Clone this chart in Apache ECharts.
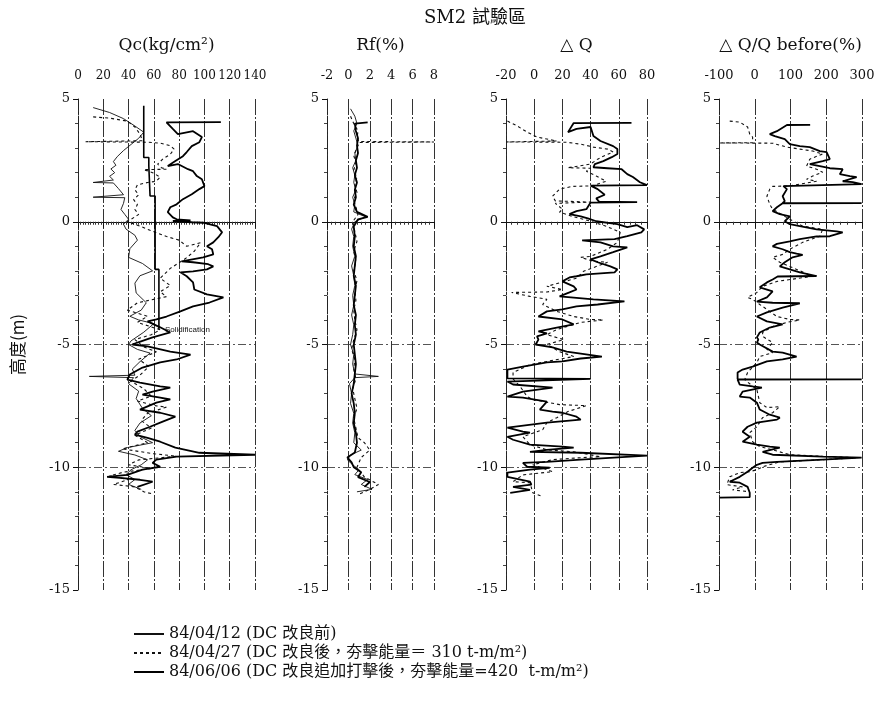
<!DOCTYPE html>
<html>
<head>
<meta charset="utf-8">
<script src="https://cdn.jsdelivr.net/npm/echarts@6/dist/echarts.min.js"></script>
<style>
html,body{margin:0;padding:0;background:#fff;}
#chart{width:887px;height:703px;}
</style>
</head>
<body>
<div id="chart"></div>
<script>
// Legend names of the three CPT soundings
const nameBefore = '84/04/12 (DC 改良前)';
const nameAfter1 = '84/04/27 (DC 改良後，夯擊能量＝ 310 t-m/m²)';
const nameAfter2 = '84/06/06 (DC 改良追加打擊後，夯擊能量=420  t-m/m²)';

// Panel headings and axis ticks
const panelTitles = ['Qc(kg/cm²)', 'Rf(%)', '△ Q', '△ Q/Q before(%)'];
const xRanges = [[0, 140, 20], [-2, 8, 2], [-20, 80, 20], [-100, 300, 100]];
const elevRange = [-15, 5, 5];

// Qc (kg/cm2) vs elevation (m): [value, elevation]
const qcBefore = [[12,4.65],[25,4.45],[36,4.2],[45,3.9],[52,3.65],[48,3.4],[42,3.15],[36,2.9],[31,2.65],[28,2.45],[30,2.3],[26,2.15],[29,2.0],[25,1.85],[28,1.7],[27,1.62],[12,1.6],[28,1.58],[32,1.35],[36,1.1],[37,1.02],[12,1.0],[37,0.98],[36,0.75],[34,0.5],[37,0.3],[40,0.1],[36,-0.1],[38,-0.3],[45,-0.55],[47,-0.75],[41,-1.1],[40,-1.45],[51,-1.7],[59,-2.0],[49,-2.2],[45,-2.5],[46,-2.9],[54,-3.3],[50,-3.6],[41,-3.85],[48,-4.0],[60,-4.15],[52,-4.5],[42,-4.85],[40,-5.0],[47,-5.2],[57,-5.35],[49,-5.7],[43,-6.0],[45,-6.25],[9,-6.3],[44,-6.35],[40,-6.6],[48,-6.9],[46,-7.2],[51,-7.6],[58,-7.9],[49,-8.2],[45,-8.5],[49,-8.75],[59,-9.0],[39,-9.2],[32,-9.35],[45,-9.5],[55,-9.7],[50,-9.9],[42,-10.1],[38,-10.3],[45,-10.5],[40,-10.7],[50,-10.9]];
const qcAfter1 = [[12,4.27],[25,4.22],[39,4.1],[45,3.86],[49,3.57],[51,3.3],[6,3.26],[55,3.24],[65,3.2],[73,3.1],[76,2.96],[73,2.75],[67,2.55],[63,2.35],[66,2.2],[70,2.14],[52,2.12],[59,2.0],[65,1.82],[62,1.65],[55,1.6],[47,1.5],[45,1.3],[48,1.1],[44,0.9],[47,0.7],[45,0.5],[48,0.3],[42,0.1],[39,0.0],[50,-0.2],[57,-0.35],[70,-0.6],[80,-0.75],[86,-1.0],[97,-0.85],[92,-1.2],[85,-1.5],[73,-1.9],[65,-2.3],[73,-2.6],[65,-2.85],[70,-3.05],[47,-3.3],[39,-3.6],[55,-3.85],[47,-4.1],[65,-4.4],[58,-4.6],[45,-4.8],[52,-5.1],[62,-5.3],[48,-5.6],[56,-5.9],[50,-6.2],[42,-6.5],[52,-6.8],[58,-7.1],[47,-7.3],[62,-7.5],[70,-7.55],[55,-7.8],[50,-8.1],[58,-8.4],[45,-8.7],[55,-9.0],[35,-9.25],[60,-9.45],[78,-9.55],[48,-9.7],[40,-9.9],[58,-10.05],[36,-10.2],[25,-10.35],[40,-10.5],[28,-10.7],[45,-10.8],[52,-11.0],[60,-11.1]];
const qcAfter2 = [[113,4.06],[70,4.05],[75,3.78],[79,3.57],[91,3.69],[98,3.45],[96,3.24],[90,3.08],[86,2.84],[83,2.67],[77,2.47],[71,2.27],[79,2.35],[87,2.14],[91,2.06],[94,1.86],[98,1.73],[100,1.45],[96,1.33],[90,1.12],[83,0.92],[78,0.71],[73,0.59],[71,0.39],[75,0.18],[78,0.10],[89,0.06],[75,0.03],[90,-0.02],[99,-0.04],[110,-0.18],[114,-0.43],[111,-0.63],[107,-0.84],[102,-1.0],[106,-1.12],[107,-1.33],[99,-1.45],[82,-1.61],[91,-1.65],[103,-1.73],[107,-1.82],[102,-1.94],[91,-2.02],[81,-2.06],[86,-2.22],[91,-2.47],[92,-2.76],[102,-2.96],[115,-3.08],[104,-3.29],[91,-3.45],[81,-3.65],[70,-3.86],[62,-3.98],[55,-4.06],[65,-4.3],[73,-4.51],[59,-4.71],[47,-4.92],[43,-5.0],[55,-5.08],[73,-5.29],[89,-5.41],[78,-5.61],[65,-5.73],[51,-5.94],[41,-6.22],[39,-6.43],[49,-6.55],[65,-6.71],[73,-6.76],[59,-6.92],[51,-7.04],[65,-7.16],[73,-7.24],[62,-7.37],[49,-7.65],[65,-7.78],[77,-7.94],[67,-8.14],[57,-8.35],[47,-8.55],[45,-8.67],[55,-8.8],[65,-8.96],[77,-9.2],[96,-9.41],[140,-9.49],[78,-9.57],[62,-9.69],[59,-9.82],[65,-9.98],[51,-10.1],[39,-10.31],[23,-10.39],[33,-10.43],[49,-10.51],[59,-10.59],[47,-10.8]];
// Solidification depth line (kg/cm2 threshold by layer)
const qcSolid = [[52,4.73],[52,2.62],[56,2.62],[56,2.28],[57,2.28],[57,1.05],[61,1.05],[61,-1.94],[64,-1.94],[64,-4.39]];

// Friction ratio Rf (%)
const rfBefore = [[0.2,4.6],[0.6,4.3],[0.8,4.0],[0.5,3.7],[0.7,3.4],[0.9,3.1],[0.6,2.8],[0.7,2.5],[0.4,2.2],[0.6,1.9],[0.5,1.6],[0.7,1.3],[0.4,1.0],[0.6,0.7],[0.5,0.4],[1.6,0.2],[0.6,0.0],[0.3,-0.3],[0.5,-0.6],[0.4,-1.0],[0.6,-1.4],[0.3,-1.8],[0.5,-2.2],[0.6,-2.6],[0.4,-3.0],[0.5,-3.4],[0.3,-3.8],[0.5,-4.2],[0.4,-4.6],[0.2,-5.0],[0.5,-5.4],[0.4,-5.8],[0.6,-6.2],[2.8,-6.3],[0.6,-6.35],[0.1,-6.6],[0.3,-7.0],[0.2,-7.4],[0.5,-7.8],[0.4,-8.2],[0.6,-8.6],[0.5,-9.0],[1.2,-9.3],[0.2,-9.5],[-0.1,-9.7],[0.4,-9.9],[1.0,-10.1],[0.6,-10.3],[1.8,-10.5],[1.2,-10.7],[2.2,-10.9],[0.8,-11.0]];
const rfAfter1 = [[0.2,4.3],[0.5,4.0],[0.9,3.7],[0.8,3.4],[1.0,3.27],[8.0,3.25],[1.0,3.23],[0.8,3.0],[0.5,2.7],[0.7,2.4],[0.5,2.1],[0.8,1.8],[0.6,1.5],[0.8,1.2],[0.5,0.9],[0.7,0.6],[0.9,0.3],[0.4,0.0],[0.6,-0.4],[0.8,-0.8],[0.5,-1.2],[0.7,-1.6],[0.5,-2.0],[0.8,-2.4],[0.6,-2.8],[0.7,-3.2],[0.5,-3.6],[0.6,-4.0],[0.8,-4.4],[0.5,-4.8],[0.3,-5.2],[0.6,-5.6],[0.5,-6.0],[0.7,-6.4],[0.4,-6.8],[0.6,-7.2],[0.8,-7.6],[0.5,-8.0],[0.7,-8.4],[0.9,-8.8],[1.5,-9.0],[2.0,-9.3],[1.2,-9.6],[0.8,-10.0],[1.5,-10.4],[2.8,-10.7],[2.0,-10.9],[1.0,-11.1]];
const rfAfter2 = [[1.8,4.05],[0.6,4.0],[0.7,3.7],[0.9,3.4],[0.8,3.1],[0.9,2.8],[0.7,2.5],[0.8,2.2],[0.6,1.9],[0.8,1.6],[0.6,1.3],[0.7,1.0],[0.5,0.7],[0.8,0.4],[1.8,0.2],[0.9,0.1],[0.5,-0.2],[0.6,-0.6],[0.5,-1.0],[0.7,-1.4],[0.6,-1.8],[0.5,-2.2],[0.7,-2.6],[0.6,-3.0],[0.5,-3.4],[0.7,-3.8],[0.6,-4.2],[0.7,-4.6],[0.5,-5.0],[0.6,-5.4],[0.7,-5.8],[0.6,-6.2],[0.5,-6.6],[0.3,-7.0],[0.5,-7.4],[0.6,-7.8],[0.5,-8.2],[0.7,-8.6],[0.8,-9.0],[0.6,-9.4],[-0.1,-9.6],[0.3,-9.8],[0.5,-10.0],[1.2,-10.2],[0.9,-10.4],[2.0,-10.6],[1.5,-10.8]];

// Increase of cone resistance, Qc after - Qc before (kg/cm2)
const dqAfter1 = [[-19,4.1],[-12,3.9],[-5,3.65],[2,3.45],[9,3.37],[16,3.29],[-20,3.25],[23,3.24],[33,3.16],[42,3.04],[52,2.96],[56,2.84],[49,2.67],[45,2.55],[40,2.35],[24,2.2],[40,2.18],[37,2.06],[44,1.86],[51,1.65],[41,1.46],[27,1.44],[18,1.33],[13,1.04],[15,0.85],[40,0.8],[15,0.75],[20,0.51],[18,0.39],[28,0.2],[40,0.02],[51,-0.18],[61,-0.43],[59,-0.84],[52,-1.12],[40,-1.41],[33,-1.45],[42,-1.61],[52,-1.65],[35,-2.02],[30,-2.3],[9,-2.63],[20,-2.76],[9,-2.86],[-16,-2.88],[-3,-3.04],[9,-3.16],[6,-3.37],[16,-3.65],[28,-3.86],[40,-3.98],[49,-4.0],[33,-4.1],[16,-4.39],[9,-4.6],[21,-4.8],[9,-5.0],[18,-5.29],[28,-5.49],[9,-5.69],[-3,-5.82],[-15,-6.14],[-15,-6.4],[-10,-6.71],[-5,-7.12],[-1,-7.24],[18,-7.45],[37,-7.49],[24,-7.73],[16,-7.98],[9,-8.18],[6,-8.47],[-8,-8.76],[-3,-9.08],[9,-9.29],[28,-9.37],[47,-9.57],[33,-9.61],[13,-9.69],[-1,-9.9],[9,-10.1],[13,-10.18],[-8,-10.31],[-15,-10.59],[-3,-10.63],[-1,-11.04],[6,-11.2]];
const dqAfter2 = [[69,4.03],[28,4.02],[24,3.65],[30,3.78],[40,3.86],[42,3.49],[47,3.29],[56,3.08],[59,2.96],[59,2.76],[55,2.63],[49,2.47],[43,2.35],[42,2.22],[52,2.18],[62,2.14],[66,1.94],[70,1.82],[75,1.61],[80,1.49],[40,1.47],[45,1.33],[50,1.1],[44,0.95],[46,0.82],[73,0.8],[40,0.78],[37,0.51],[30,0.43],[25,0.31],[33,0.22],[38,0.14],[44,0.02],[59,-0.1],[66,-0.22],[73,-0.14],[78,-0.31],[76,-0.43],[66,-0.59],[57,-0.71],[34,-0.76],[47,-0.84],[56,-1.0],[66,-1.04],[56,-1.24],[47,-1.41],[40,-1.53],[45,-1.65],[54,-1.82],[59,-1.94],[57,-2.06],[37,-2.14],[30,-2.22],[25,-2.27],[20,-2.43],[28,-2.63],[30,-2.76],[25,-2.88],[18,-3.04],[42,-3.16],[64,-3.24],[45,-3.37],[30,-3.45],[20,-3.57],[9,-3.65],[3,-3.86],[20,-3.98],[28,-4.18],[16,-4.31],[3,-4.47],[9,-4.55],[2,-4.67],[3,-4.8],[1,-5.0],[13,-5.12],[23,-5.29],[33,-5.37],[48,-5.49],[33,-5.57],[20,-5.69],[9,-5.73],[-8,-5.9],[-19,-6.02],[-19,-6.38],[40,-6.4],[-19,-6.51],[-15,-6.63],[13,-6.76],[-8,-6.92],[-19,-7.12],[-8,-7.16],[9,-7.33],[4,-7.65],[13,-7.73],[20,-7.78],[30,-7.94],[33,-8.06],[9,-8.18],[-19,-8.39],[-8,-8.55],[-3,-8.59],[-19,-8.76],[-15,-8.88],[-3,-9.08],[20,-9.16],[28,-9.2],[9,-9.29],[-3,-9.37],[33,-9.41],[80,-9.53],[33,-9.69],[9,-9.78],[-8,-9.82],[-5,-9.98],[11,-10.02],[-3,-10.1],[-19,-10.22],[-19,-10.39],[-3,-10.59],[-2,-10.71],[-15,-10.8],[-3,-10.92],[-17,-11.04]];

// Relative increase, delta Q / Q before (%)
const rqAfter1 = [[-70,4.1],[-42,4.06],[-20,3.86],[-14,3.57],[-6,3.45],[-6,3.22],[-98,3.21],[50,3.2],[90,3.04],[126,2.96],[162,2.88],[190,2.76],[154,2.55],[145,2.27],[173,2.14],[190,2.02],[162,1.86],[145,1.73],[173,1.65],[98,1.46],[50,1.44],[42,1.33],[34,1.04],[42,0.71],[50,0.51],[98,0.1],[134,-0.18],[190,-0.31],[182,-0.59],[134,-0.84],[98,-1.12],[78,-1.33],[50,-1.45],[70,-1.65],[162,-2.22],[62,-2.43],[22,-2.63],[6,-2.88],[-20,-3.08],[-6,-3.16],[14,-3.37],[34,-3.57],[62,-3.86],[98,-3.98],[126,-4.0],[90,-4.1],[50,-4.27],[22,-4.51],[22,-4.67],[50,-4.92],[34,-5.2],[50,-5.33],[14,-5.49],[6,-5.73],[-20,-6.14],[-28,-6.43],[6,-6.84],[14,-7.37],[34,-7.57],[70,-7.53],[50,-7.78],[22,-7.98],[6,-8.35],[-14,-8.59],[-6,-8.96],[14,-9.16],[50,-9.29],[98,-9.49],[210,-9.57],[285,-9.61],[190,-9.69],[70,-9.78],[22,-9.98],[6,-10.1],[-14,-10.18],[-42,-10.22],[-70,-10.39],[-78,-10.71],[-34,-10.8],[-62,-10.92],[-14,-11.0]];
const rqAfter2 = [[155,3.95],[90,3.94],[92,3.9],[62,3.69],[42,3.57],[56,3.49],[84,3.37],[98,3.16],[126,3.08],[154,3.04],[182,2.88],[201,2.84],[210,2.55],[190,2.47],[154,2.35],[182,2.27],[210,2.18],[246,2.14],[238,1.94],[266,1.86],[285,1.82],[246,1.65],[274,1.61],[299,1.53],[299,1.46],[80,1.45],[90,1.33],[78,1.04],[84,0.84],[78,0.77],[299,0.76],[78,0.75],[62,0.59],[50,0.43],[70,0.31],[98,0.22],[84,0.02],[98,-0.1],[126,-0.18],[173,-0.31],[229,-0.39],[246,-0.43],[210,-0.59],[173,-0.6],[126,-0.71],[98,-0.8],[62,-0.9],[50,-1.0],[78,-1.12],[98,-1.24],[117,-1.3],[134,-1.35],[106,-1.45],[84,-1.65],[70,-1.82],[98,-1.94],[126,-2.06],[173,-2.21],[64,-2.23],[50,-2.35],[34,-2.47],[14,-2.67],[50,-2.84],[34,-3.08],[6,-3.25],[50,-3.3],[126,-3.32],[78,-3.5],[34,-3.69],[6,-3.86],[34,-4.06],[78,-4.18],[42,-4.31],[14,-4.51],[6,-4.71],[10,-4.8],[6,-4.92],[14,-5.0],[50,-5.29],[78,-5.33],[117,-5.49],[78,-5.61],[34,-5.69],[-6,-5.9],[-34,-6.02],[-48,-6.14],[-48,-6.41],[299,-6.42],[-48,-6.43],[-42,-6.63],[-6,-6.71],[20,-6.76],[-34,-6.92],[-42,-7.12],[-14,-7.16],[6,-7.37],[14,-7.65],[42,-7.86],[70,-7.98],[62,-8.06],[6,-8.18],[-20,-8.35],[-34,-8.55],[-14,-8.76],[-34,-8.96],[6,-9.08],[42,-9.16],[70,-9.2],[22,-9.37],[50,-9.49],[190,-9.57],[299,-9.61],[190,-9.69],[62,-9.78],[22,-9.82],[6,-9.9],[-6,-10.02],[-20,-10.18],[-42,-10.39],[-70,-10.59],[-42,-10.63],[-20,-10.8],[-14,-11.04],[-14,-11.22],[-98,-11.24]];

const serif = "'DejaVu Serif', 'Liberation Serif', serif";
const mixed = "'DejaVu Serif', 'Noto Sans CJK TC', serif";
const cjk = "'Noto Sans CJK TC', 'Noto Sans', sans-serif";

const gridBoxes = [
  { left: 78, width: 177 },
  { left: 327, width: 107 },
  { left: 506, width: 141 },
  { left: 719, width: 143 }
];
const minorSplits = [10, 5, 5, 5];

const grid = gridBoxes.map(g => ({ left: g.left, width: g.width, top: 99, height: 491 }));

const xAxis = xRanges.map((r, i) => ({
  type: 'value', gridIndex: i, position: 'top',
  min: r[0], max: r[1], interval: r[2],
  name: panelTitles[i], nameLocation: 'middle', nameGap: 45,
  nameTextStyle: { fontFamily: mixed, fontSize: 17, color: '#111' },
  axisLine: { show: true, lineStyle: { color: '#111', width: 1 } },
  axisTick: { show: true, inside: true, length: 6, lineStyle: { color: '#111' } },
  minorTick: { show: true, splitNumber: minorSplits[i], length: 3, lineStyle: { color: '#333' } },
  axisLabel: { fontFamily: serif, fontSize: i === 0 ? 12 : 13, color: '#111', margin: 17 },
  splitLine: { show: true, lineStyle: { color: '#333', width: 1, type: [16, 2, 2, 2] } }
}));

const yAxis = xRanges.map((r, i) => ({
  type: 'value', gridIndex: i,
  min: elevRange[0], max: elevRange[1], interval: elevRange[2],
  name: i === 0 ? '高度(m)' : '', nameLocation: 'middle', nameGap: 52, nameRotate: 90,
  nameTextStyle: { fontFamily: cjk, fontSize: 17, color: '#111' },
  axisLine: { show: true, onZero: false, lineStyle: { color: '#222', width: 1, type: [14, 2, 2, 2] } },
  axisTick: { show: true, length: 5, lineStyle: { color: '#111' } },
  minorTick: { show: true, splitNumber: 5, length: 3, lineStyle: { color: '#444' } },
  axisLabel: { fontFamily: serif, fontSize: 13, color: '#111', margin: 8 },
  splitLine: { show: true, lineStyle: { color: ['rgba(0,0,0,0)', '#555', '#555', '#555', 'rgba(0,0,0,0)'], width: 1, type: [8, 3, 2, 3] } }
}));

const styles = {
  before: { color: '#111', width: 0.9, type: 'solid' },
  after1: { color: '#111', width: 1.1, type: [3, 3] },
  after2: { color: '#000', width: 1.8, type: 'solid' }
};

function profile(name, data, i, style, extra) {
  return Object.assign({
    name, type: 'line', xAxisIndex: i, yAxisIndex: i, data,
    symbol: 'none', showSymbol: false, animation: false,
    lineStyle: style, itemStyle: { color: style.color }
  }, extra || {});
}

const series = [
  profile(nameBefore, qcBefore, 0, styles.before),
  profile(nameAfter1, qcAfter1, 0, styles.after1),
  profile(nameAfter2, qcAfter2, 0, styles.after2),
  profile('Solidification', qcSolid, 0, { color: '#000', width: 1.6, type: 'solid' }, {
    endLabel: { show: true, formatter: 'Solidification', fontFamily: "'Liberation Sans', sans-serif", fontSize: 8, color: '#111', distance: 6 }
  }),
  profile(nameBefore, rfBefore, 1, styles.before),
  profile(nameAfter1, rfAfter1, 1, styles.after1),
  profile(nameAfter2, rfAfter2, 1, styles.after2),
  profile(nameAfter1, dqAfter1, 2, styles.after1),
  profile(nameAfter2, dqAfter2, 2, styles.after2),
  profile(nameAfter1, rqAfter1, 3, styles.after1),
  profile(nameAfter2, rqAfter2, 3, styles.after2)
];

const chart = echarts.init(document.getElementById('chart'), null, { renderer: 'canvas' });
chart.setOption({
  backgroundColor: '#fff',
  animation: false,
  title: {
    text: 'SM2 試驗區', left: 419, top: 4,
    textStyle: { fontFamily: mixed, fontSize: 18, fontWeight: 'normal', color: '#111' }
  },
  legend: {
    data: [nameBefore, nameAfter1, nameAfter2],
    orient: 'vertical', left: 128, top: 620,
    itemWidth: 30, itemHeight: 10, itemGap: 1,
    itemStyle: { color: 'rgba(0,0,0,0)', borderWidth: 0, opacity: 0 },
    textStyle: { fontFamily: mixed, fontSize: 16, color: '#111', lineHeight: 18 }
  },
  grid, xAxis, yAxis, series
});
</script>
</body>
</html>
